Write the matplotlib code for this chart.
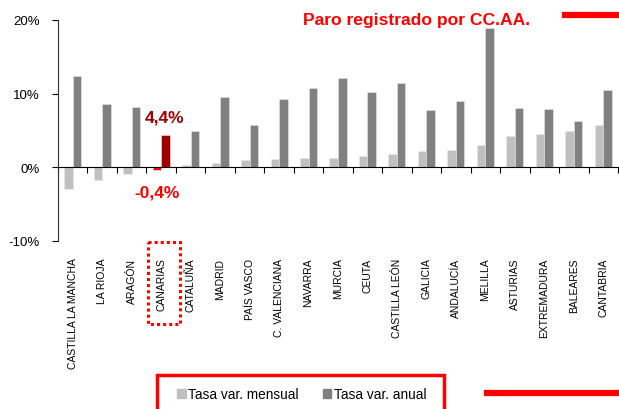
import matplotlib
matplotlib.use("Agg")
import matplotlib.pyplot as plt
import matplotlib.transforms as mtransforms
from matplotlib.patches import Rectangle, Patch
from matplotlib.lines import Line2D
import numpy as np

plt.rcParams['font.family'] = ['Liberation Sans', 'DejaVu Sans']

regiones = ["CASTILLA LA MANCHA", "LA RIOJA", "ARAGÓN", "CANARIAS", "CATALUÑA",
            "MADRID", "PAÍS VASCO", "C. VALENCIANA", "NAVARRA", "MURCIA",
            "CEUTA", "CASTILLA LEÓN", "GALICIA", "ANDALUCÍA", "MELILLA",
            "ASTURIAS", "EXTREMADURA", "BALEARES", "CANTABRIA"]
tasa_mensual = [-3.0, -1.7, -0.9, -0.4, 0.3, 0.6, 1.0, 1.1, 1.2, 1.3,
                1.5, 1.8, 2.2, 2.4, 3.0, 4.2, 4.5, 5.0, 5.7]
tasa_anual = [12.4, 8.6, 8.2, 4.4, 4.9, 9.5, 5.8, 9.3, 10.8, 12.1,
              10.2, 11.5, 7.8, 9.0, 18.9, 8.0, 7.9, 6.3, 10.5]
destacada = "CANARIAS"
yticks = [-10, 0, 10, 20]

fig = plt.figure(figsize=(6.19, 4.10), dpi=100)
ax = fig.add_axes([58 / 619, 1 - 242 / 410, 560 / 619, 221 / 410])

x = np.arange(len(regiones))
w = 0.29
idx = regiones.index(destacada)
col_m = ["#c0c0c0"] * len(regiones)
col_a = ["#808080"] * len(regiones)
col_m[idx] = "#ff0000"
col_a[idx] = "#a00000"
ax.bar(x - w / 2, tasa_mensual, w, color=col_m, edgecolor="#e8e8e8", linewidth=0.4, zorder=2)
ax.bar(x + w / 2, tasa_anual, w, color=col_a, edgecolor="#e8e8e8", linewidth=0.4, zorder=2)

ax.set_xlim(-0.5, len(regiones) - 0.5)
ax.set_ylim(-10, 20)
ax.set_yticks(yticks)
ax.set_yticklabels([f"{v}%" for v in yticks], fontsize=9.5)
ax.tick_params(axis="y", direction="out", length=4, width=0.8, pad=9)

for s in ["top", "right"]:
    ax.spines[s].set_visible(False)
ax.spines["bottom"].set_position(("data", 0))
ax.spines["left"].set_color("#303030")
ax.set_xticks(x)
ax.set_xticklabels([])
ax.tick_params(axis="x", which="major", length=0)
ax.set_xticks(np.arange(len(regiones) + 1) - 0.5, minor=True)
ax.tick_params(axis="x", which="minor", direction="out", length=4, width=0.8)

trans = mtransforms.blended_transform_factory(ax.transData, ax.transAxes)
for i, r in enumerate(regiones):
    ax.text(i, -0.075, r, rotation=90, ha="center", va="top", fontsize=7.5,
            transform=trans)

# etiquetas Canarias
ax.text(idx + 0.13, tasa_anual[idx] + 2.5, f"{tasa_anual[idx]:.1f}%".replace(".", ","),
        color="#a00000", fontsize=12.5, fontweight="bold", ha="center", va="center")
ax.text(idx - 0.15, -3.4, f"{tasa_mensual[idx]:.1f}%".replace(".", ","),
        color="#ff0000", fontsize=12.5, fontweight="bold", ha="center", va="center")

# recuadro punteado alrededor de la etiqueta
ax.add_patch(Rectangle((idx - 0.45, -0.005), 1.08, -0.37, transform=trans,
                       fill=False, edgecolor="#ff0000", linestyle=(0, (1, 1)),
                       linewidth=2.2, clip_on=False))

fig.text(303 / 619, 1 - 21 / 410, "Paro registrado por CC.AA.", color="#ff0000",
         fontsize=12.6, fontweight="bold", ha="left", va="center")
fig.add_artist(Line2D([565 / 619, 1], [1 - 16 / 410] * 2, color="#ff0000", linewidth=4.5))
fig.add_artist(Line2D([487 / 619, 1], [1 - 394 / 410] * 2, color="#ff0000", linewidth=4.5))

fig.add_artist(Rectangle((157 / 619, -0.05), 287 / 619, (410 - 376) / 410 + 0.05,
                         transform=fig.transFigure, fill=False, edgecolor="#ff0000",
                         linewidth=2.5))
handles = [Patch(color="#c0c0c0", label="Tasa var. mensual"),
           Patch(color="#808080", label="Tasa var. anual")]
fig.legend(handles=handles, loc="center", bbox_to_anchor=(302 / 619, 1 - 395 / 410),
           ncol=2, frameon=False, fontsize=9.8, handlelength=0.6, handleheight=0.6,
           handletextpad=0.2, columnspacing=1.8)

fig.savefig("out.png", dpi=100)
